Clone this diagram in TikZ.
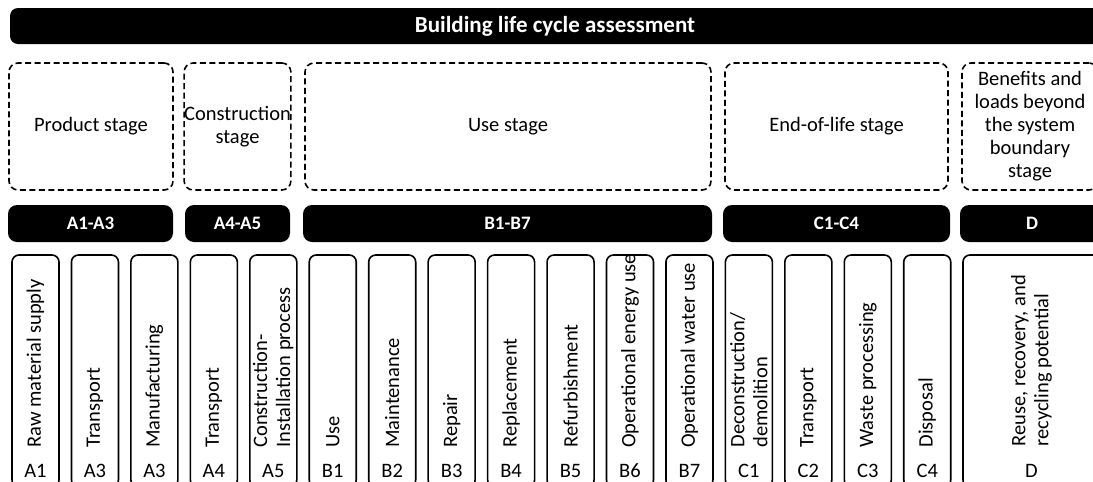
\documentclass[tikz,border=0pt]{standalone}
\usepackage{fontspec}
\setmainfont{Carlito}
\begin{document}
\begin{tikzpicture}[x=1pt,y=-1pt,
  every node/.style={font=\fontsize{20.5}{23}\selectfont},
  titlebar/.style={fill=black, rounded corners=8pt, text=white,
    font=\fontsize{23}{26}\selectfont\bfseries, inner sep=0pt},
  headbar/.style={fill=black, rounded corners=9pt, text=white,
    font=\fontsize{19}{22}\selectfont\bfseries, inner sep=0pt,
    minimum height=37pt},
  stagebox/.style={draw, line width=1.6pt, dash pattern=on 6pt off 3.5pt,
    rounded corners=9pt, minimum height=127pt, align=center, inner sep=0pt},
  phasebox/.style={draw, line width=1.6pt, rounded corners=7pt,
    minimum width=47pt, minimum height=232pt, inner sep=0pt},
  vlabel/.style={rotate=90, anchor=west, align=left, inner sep=0pt},
  codelabel/.style={inner sep=0pt}]

\clip (0,0) rectangle (1093,482);

% title bar
\node[titlebar, minimum width=1090pt, minimum height=36pt] (lca) at (555,26)
  {Building life cycle assessment};

% stage boxes
\node[stagebox, minimum width=164pt] (prod) at (91,126.5) {Product stage};
\node[stagebox, minimum width=103pt] (cons) at (237.5,126.5) {Construction\\stage};
\node[stagebox, minimum width=406pt] (use) at (508,126.5) {Use stage};
\node[stagebox, minimum width=223pt] (eol) at (836.5,126.5) {End-of-life stage};
\node[stagebox, minimum width=136pt] (ben) at (1030,126.5)
  {Benefits and\\loads beyond\\the system\\boundary\\stage};

% module group bars
\node[headbar, minimum width=165pt] (hA13) at (90.5,223.5) {A1-A3};
\node[headbar, minimum width=105pt] (hA45) at (237.5,223.5) {A4-A5};
\node[headbar, minimum width=409pt] (hB) at (507.5,223.5) {B1-B7};
\node[headbar, minimum width=227pt] (hC) at (836.5,223.5) {C1-C4};
\node[headbar, minimum width=144pt] (hD) at (1032,223.5) {D};

% individual modules
\foreach \i/\nm/\txt/\code in {
    0/mA1/{Raw material supply}/A1,
    1/mA2/{Transport}/A3,
    2/mA3/{Manufacturing}/A3,
    3/mA4/{Transport}/A4,
    4/mA5/{Construction-\\Installation process}/A5,
    5/mB1/{Use}/B1,
    6/mB2/{Maintenance}/B2,
    7/mB3/{Repair}/B3,
    8/mB4/{Replacement}/B4,
    9/mB5/{Refurbishment}/B5,
    10/mB6/{Operational energy use}/B6,
    11/mB7/{Operational water use}/B7,
    12/mC1/{Deconstruction/\\demolition}/C1,
    13/mC2/{Transport}/C2,
    14/mC3/{Waste processing}/C3,
    15/mC4/{Disposal}/C4} {
  \node[phasebox] (\nm) at ({35.5+59.45*\i},371) {};
  \node[vlabel] (\nm-t) at ([yshift=40pt]\nm.south) {\txt};
  \node[codelabel] (\nm-c) at ([yshift=17pt]\nm.south) {\code};
}

\node[phasebox, minimum width=137pt] (mD) at (1031.5,371) {};
\node[vlabel] (mD-t) at ([yshift=41pt]mD.south) {Reuse, recovery, and\\recycling potential};
\node[codelabel] (mD-c) at ([yshift=17pt]mD.south) {D};

\end{tikzpicture}
\end{document}
